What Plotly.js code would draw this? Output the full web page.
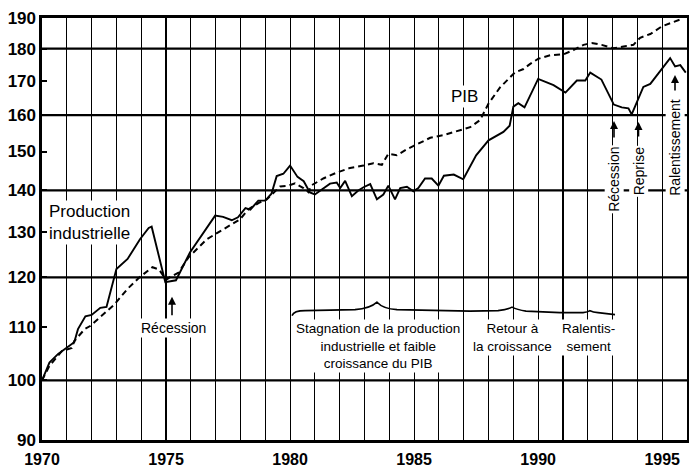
<!DOCTYPE html>
<html>
<head>
<meta charset="utf-8">
<script src="https://cdn.plot.ly/plotly-3.0.1.min.js"></script>
<style>
html,body{margin:0;padding:0;background:#fff;}
#chart{width:689px;height:468px;}
</style>
</head>
<body>
<div id="chart"></div>
<script>
// ---- Data ----
const ipYears = [1970.0,1970.3,1970.65,1970.95,1971.3,1971.45,1971.75,1972.0,1972.35,1972.6,1972.9,1973.0,1973.45,1973.95,1974.3,1974.42,1974.97,1975.4,1975.97,1976.98,1977.3,1977.65,1977.9,1978.2,1978.4,1978.72,1979.0,1979.25,1979.46,1979.73,1980.0,1980.3,1980.55,1980.8,1981.0,1981.34,1981.61,1981.88,1982.02,1982.22,1982.49,1982.75,1982.96,1983.23,1983.5,1983.76,1983.96,1984.23,1984.44,1984.71,1984.97,1985.17,1985.44,1985.71,1985.98,1986.2,1986.6,1986.98,1987.5,1988.0,1988.6,1988.85,1989.0,1989.2,1989.45,1990.0,1990.62,1991.1,1991.56,1991.9,1992.1,1992.55,1993.05,1993.37,1993.64,1993.77,1994.04,1994.24,1994.52,1994.92,1995.32,1995.52,1995.73,1995.95];
const ipValues = [100,103.2,104.8,105.8,107.0,109.5,112.0,112.3,113.7,113.9,119.8,121.8,124.0,128.4,131.0,131.3,119.0,119.4,125.5,133.9,133.6,132.8,133.5,135.7,135.3,137.5,137.5,139.2,143.6,144.2,146.3,143.4,142.3,139.5,139.0,140.6,141.7,142.0,140.6,142.4,138.6,140.0,140.8,141.6,137.8,139.0,141.2,137.8,140.6,140.9,139.8,140.6,143.0,143.0,141.2,143.7,144.0,142.8,149.0,153.0,155.3,157.0,162.4,163.4,162.2,170.6,168.7,166.5,170.1,170.1,172.5,170.4,163.0,162.2,161.9,160.2,164.8,168.2,169.1,173.0,177.0,174.4,174.8,172.5];

const pibYears = [1970.0,1970.3,1970.8,1971.2,1971.3,1971.72,1971.94,1972.3,1972.9,1973.45,1973.9,1974.45,1974.72,1975.0,1975.2,1975.5,1975.9,1976.64,1977.31,1977.98,1978.32,1978.79,1979.06,1979.4,1979.6,1979.93,1980.2,1980.54,1980.74,1980.87,1981.34,1981.88,1982.42,1982.96,1983.36,1983.7,1983.96,1984.3,1984.71,1985.11,1985.65,1986.18,1986.8,1987.26,1987.66,1988.0,1988.47,1988.87,1989.07,1989.41,1989.68,1990.01,1990.48,1991.02,1991.42,1991.83,1992.16,1992.56,1993.04,1993.44,1993.84,1994.11,1994.52,1995.0,1995.75];
const pibValues = [100,102.6,105.3,105.9,107.2,109.5,110.1,111.7,114.3,117.6,119.9,122.2,121.7,119.5,120.2,121.0,124.3,128.4,130.7,133.0,135.4,137.1,137.8,139.8,141.0,141.2,141.8,140.6,139.6,141.3,143.0,144.5,145.7,146.3,146.9,146.5,149.4,149.0,150.6,151.9,153.7,154.4,155.7,156.6,158.6,163.3,168.1,171.1,172.6,173.6,175.2,176.8,177.9,178.2,179.5,181.2,181.8,181.2,180.1,180.7,181.2,183.5,184.7,187.3,189.6];

const yTickVals = [90,100,110,120,130,140,150,160,170,180,190];
const yTickText = ['90','100','110','120','130','140','150','160','170','180','190'];
const xTickVals = [1970,1971,1972,1973,1974,1975,1976,1977,1978,1979,1980,1981,1982,1983,1984,1985,1986,1987,1988,1989,1990,1991,1992,1993,1994,1995];
const xTickText = ['1970','','','','','1975','','','','','1980','','','','','1985','','','','','1990','','','','','1995'];
const majorLines = [100,120,140,160,180];

// ---- helpers for decorations (pixel -> paper) ----
const L = 42, W = 645, B = 440.5, H = 422.5;
const yLo = Math.log10(89.97), yHi = Math.log10(190.03);
function px(x){ return (x - L) / W; }
function py(y){ return (B - y) / H; }
function yPaper(v){ return (Math.log10(v) - yLo) / (yHi - yLo); }
function pathPx(s){
  return s.replace(/(-?[\d.]+),(-?[\d.]+)/g, function(m,a,b){
    return px(+a).toFixed(4) + ',' + py(+b).toFixed(4);
  });
}

const FONT = 'Liberation Sans, Arial, Helvetica, sans-serif';

const traces = [
  {x: ipYears, y: ipValues, type:'scatter', mode:'lines', name:'Production industrielle',
   line:{color:'#000', width:1.9}},
  {x: pibYears, y: pibValues, type:'scatter', mode:'lines', name:'PIB',
   line:{color:'#000', width:2, dash:'6px,4px'}}
];

const shapes = [];
majorLines.forEach(function(v){
  shapes.push({type:'line', xref:'paper', yref:'paper', x0:0, x1:1, y0:yPaper(v), y1:yPaper(v),
    line:{color:'#000', width:2.2}, layer:'between'});
});
// white areas where the gridlines are interrupted behind the notes
shapes.push({type:'rect', xref:'paper', yref:'paper', x0:px(285), x1:px(462), y0:py(379), y1:py(288),
  fillcolor:'#fff', line:{width:0}, layer:'between'});
shapes.push({type:'rect', xref:'paper', yref:'paper', x0:px(462), x1:px(620), y0:py(356), y1:py(300),
  fillcolor:'#fff', line:{width:0}, layer:'between'});
shapes.push({type:'rect', xref:'paper', yref:'paper', x0:px(140), x1:px(207), y0:py(340), y1:py(287),
  fillcolor:'#fff', line:{width:0}, layer:'between'});
// the brace over the period notes
shapes.push({type:'path', xref:'paper', yref:'paper', layer:'above',
  path: pathPx('M 292,316 Q 294,311 305,311 L 355,310 Q 370,309 377,302.5 Q 383,309 397,310 L 470,311.5 L 498,311 Q 507,310 512,307.5 Q 517,310 526,311.5 L 560,313 L 583,313 Q 588,312.5 590,311 Q 593,312.5 598,313 L 615,315'),
  line:{color:'#000', width:1.6}});

function note(text, x, y, size, extra){
  const a = {text:text, xref:'paper', yref:'paper', x:px(x), y:py(y), showarrow:false,
    xanchor:'center', yanchor:'middle', font:{family:FONT, size:size, color:'#000'},
    bgcolor:'#fff', borderpad:1};
  return Object.assign(a, extra || {});
}
function arrow(x, tipY, len){
  return {text:'', xref:'paper', yref:'paper', x:px(x), y:py(tipY), showarrow:true,
    ax:0, ay:len, arrowhead:2, arrowsize:1, arrowwidth:1.6, arrowcolor:'#000'};
}

const annotations = [
  note('Production<br>industrielle', 89, 223, 17),
  note('PIB', 464, 97, 17),
  note('Récession', 173.5, 328, 14),
  arrow(172, 297, 20),
  note('Stagnation de la production<br>industrielle et faible<br>croissance du PIB', 378, 346, 13.5),
  note('Retour à<br>la croissance', 512, 337.5, 13.5),
  note('Ralentis-<br>sement', 588, 337.5, 13.5),
  note('Récession', 614, 180, 14, {textangle:-90}),
  arrow(614, 121, 18),
  note('Reprise', 638.5, 172, 14, {textangle:-90}),
  arrow(638.5, 122, 16),
  note('Ralentissement', 675, 148, 14, {textangle:-90}),
  arrow(675, 75, 17)
];

const layout = {
  width:689, height:468,
  margin:{l:42, r:2, t:18, b:28, pad:0},
  paper_bgcolor:'#fff', plot_bgcolor:'#fff',
  showlegend:false,
  font:{family:FONT, color:'#000'},
  xaxis:{
    range:[1970,1996], tickvals:xTickVals, ticktext:xTickText,
    showgrid:true, gridcolor:'#000', gridwidth:1.1,
    zeroline:false, showline:true, linecolor:'#000', linewidth:2.6, mirror:true,
    ticks:'', ticklabelstandoff:3, tickfont:{family:FONT, size:16, color:'#000', weight:'bold'}
  },
  yaxis:{
    type:'log', range:[yLo, yHi],
    tickvals:yTickVals, ticktext:yTickText,
    showgrid:false, zeroline:false, showline:true, linecolor:'#000', linewidth:2.6, mirror:true,
    ticks:'inside', ticklen:5, tickwidth:2, tickcolor:'#000',
    tickfont:{family:'Liberation Sans Narrow, '+FONT, size:17, color:'#000', weight:'bold'}
  },
  shapes:shapes,
  annotations:annotations
};

Plotly.newPlot('chart', traces, layout, {displayModeBar:false, staticPlot:true});
</script>
</body>
</html>
